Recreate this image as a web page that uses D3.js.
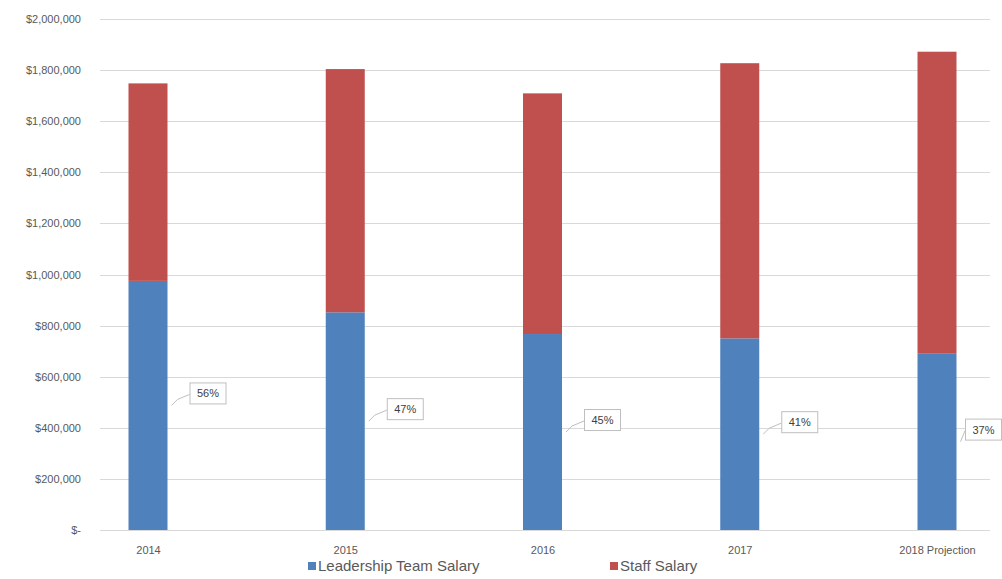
<!DOCTYPE html>
<html>
<head>
<meta charset="utf-8">
<script src="https://cdn.jsdelivr.net/npm/d3@7"></script>
<style>
  body { margin: 0; background: #fff; }
  svg { display: block; font-family: "Liberation Sans", Arial, sans-serif; }
</style>
</head>
<body>
<svg id="chart" width="1002" height="579"></svg>
<script>
const categories = ['2014', '2015', '2016', '2017', '2018 Projection'];
const leadership = [975000, 852000, 767000, 750000, 692000];
const staff = [773000, 952000, 942000, 1077000, 1180000];
const shareLabels = ['56%', '47%', '45%', '41%', '37%'];
const yTicks = [0, 200000, 400000, 600000, 800000, 1000000, 1200000, 1400000, 1600000, 1800000, 2000000];
const seriesNames = ['Leadership Team Salary', 'Staff Salary'];
const colors = ['#4F81BD', '#C0504D'];

const svg = d3.select('#chart');

const x = d3.scalePoint().domain(categories).range([148, 937]);
const y = d3.scaleLinear().domain([0, 2000000]).range([530, 19]);
const barWidth = 39;

const fmt = v => v === 0 ? '$-' : '$' + d3.format(',')(v);

// gridlines
svg.append('g').selectAll('line').data(yTicks).enter().append('line')
    .attr('x1', 100).attr('x2', 990)
    .attr('y1', d => Math.round(y(d)) + 0.5).attr('y2', d => Math.round(y(d)) + 0.5)
    .attr('stroke', '#d9d9d9').attr('stroke-width', 1);

// y axis labels
const yAxis = d3.axisLeft(y).tickValues(yTicks).tickFormat(fmt).tickSize(0).tickPadding(0);
const yg = svg.append('g').attr('transform', 'translate(81,0)').call(yAxis);
yg.select('.domain').remove();
yg.selectAll('text').attr('fill', '#595959').style('font-size', '11px').style('font-family', '"Liberation Sans", Arial, sans-serif');

// x axis labels
const xAxis = d3.axisBottom(x).tickSize(0).tickPadding(0);
const xg = svg.append('g').attr('transform', 'translate(0,546)').call(xAxis);
xg.select('.domain').remove();
xg.selectAll('text').attr('fill', '#595959').style('font-size', '11px').style('font-family', '"Liberation Sans", Arial, sans-serif');

// stacked bars
const rows = categories.map((c, i) => ({ cat: c, lead: leadership[i], staff: staff[i] }));
const stack = d3.stack().keys(['lead', 'staff'])(rows);

svg.append('g').selectAll('g').data(stack).enter().append('g')
    .attr('fill', (d, i) => colors[i])
    .selectAll('rect').data(d => d).enter().append('rect')
    .attr('x', d => x(d.data.cat) - barWidth / 2)
    .attr('width', barWidth)
    .attr('y', d => y(d[1]))
    .attr('height', d => y(d[0]) - y(d[1]));

// data labels with leader lines
const lab = svg.append('g');
const boxW = 36;
rows.forEach((r, i) => {
    const ax = x(r.cat) + barWidth / 2 + 4;
    const ay = y(r.lead / 2);
    const bx = Math.min(ax + 18, 1001 - boxW);
    const by = ay - 11;
    const mx = Math.min(ax + 6, bx - 2);
    lab.append('path')
        .attr('d', `M${ax},${ay} L${mx},${ay - 6} L${bx},${by}`)
        .attr('fill', 'none').attr('stroke', '#bfbfbf').attr('stroke-width', 1);
    lab.append('rect')
        .attr('x', bx + 0.5).attr('y', by - 11.5)
        .attr('width', boxW).attr('height', 21)
        .attr('fill', '#fff').attr('stroke', '#bfbfbf').attr('stroke-width', 1);
    lab.append('text')
        .attr('x', bx + boxW / 2 + 0.5).attr('y', by + 3)
        .attr('text-anchor', 'middle')
        .attr('fill', '#404040').style('font-size', '11px')
        .text(shareLabels[i]);
});

// legend
const legendX = [308, 610];
const lg = svg.append('g');
seriesNames.forEach((n, i) => {
    lg.append('rect').attr('x', legendX[i]).attr('y', 562).attr('width', 8).attr('height', 8).attr('fill', colors[i]);
    lg.append('text').attr('x', legendX[i] + 10).attr('y', 571)
        .attr('fill', '#595959').style('font-size', '15px').text(n);
});
</script>
</body>
</html>
